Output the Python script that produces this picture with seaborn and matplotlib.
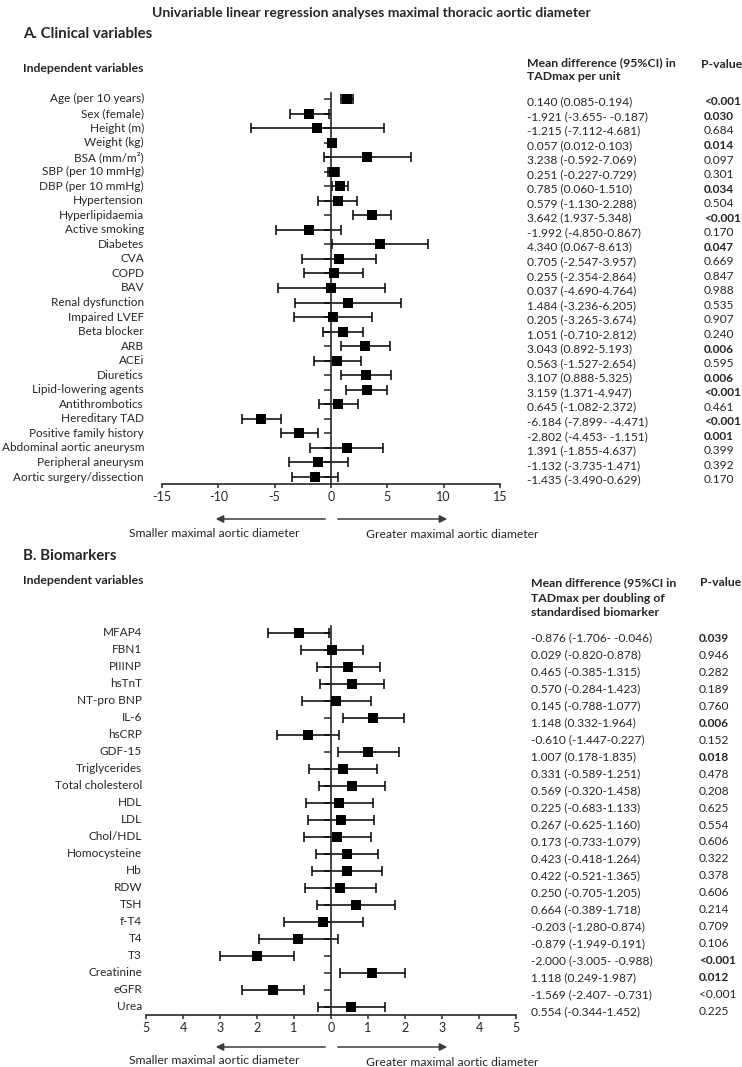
import numpy as np
import pandas as pd
import matplotlib
matplotlib.use('Agg')
import matplotlib.pyplot as plt
import matplotlib.transforms as mtransforms
import seaborn as sns

# ---- DATA: panel A (clinical variables) ----
clin_vars = ['Age (per 10 years)', 'Sex (female)', 'Height (m)', 'Weight (kg)', 'BSA (mm/m²)',
             'SBP (per 10 mmHg)', 'DBP (per 10 mmHg)', 'Hypertension', 'Hyperlipidaemia',
             'Active smoking', 'Diabetes', 'CVA', 'COPD', 'BAV', 'Renal dysfunction',
             'Impaired LVEF', 'Beta blocker', 'ARB', 'ACEi', 'Diuretics', 'Lipid-lowering agents',
             'Antithrombotics', 'Hereditary TAD', 'Positive family history',
             'Abdominal aortic aneurysm', 'Peripheral aneurysm', 'Aortic surgery/dissection']
# plotted estimates (age is drawn per 10 years in the figure)
clin_est = [1.40, -1.921, -1.215, 0.057, 3.238, 0.251, 0.785, 0.579, 3.642, -1.992, 4.340, 0.705,
            0.255, 0.037, 1.484, 0.205, 1.051, 3.043, 0.563, 3.107, 3.159, 0.645, -6.184, -2.802,
            1.391, -1.132, -1.435]
clin_lo = [0.85, -3.655, -7.112, 0.012, -0.592, -0.227, 0.060, -1.130, 1.937, -4.850, 0.067, -2.547,
           -2.354, -4.690, -3.236, -3.265, -0.710, 0.892, -1.527, 0.888, 1.371, -1.082, -7.899,
           -4.453, -1.855, -3.735, -3.490]
clin_hi = [1.94, -0.187, 4.681, 0.103, 7.069, 0.729, 1.510, 2.288, 5.348, 0.867, 8.613, 3.957,
           2.864, 4.764, 6.205, 3.674, 2.812, 5.193, 2.654, 5.325, 4.947, 2.372, -4.471, -1.151,
           4.637, 1.471, 0.629]
clin_ci_text = ['0.140 (0.085-0.194)', '-1.921 (-3.655- -0.187)', '-1.215 (-7.112-4.681)',
                '0.057 (0.012-0.103)', '3.238 (-0.592-7.069)', '0.251 (-0.227-0.729)',
                '0.785 (0.060-1.510)', '0.579 (-1.130-2.288)', '3.642 (1.937-5.348)',
                '-1.992 (-4.850-0.867)', '4.340 (0.067-8.613)', '0.705 (-2.547-3.957)',
                '0.255 (-2.354-2.864)', '0.037 (-4.690-4.764)', '1.484 (-3.236-6.205)',
                '0.205 (-3.265-3.674)', '1.051 (-0.710-2.812)', '3.043 (0.892-5.193)',
                '0.563 (-1.527-2.654)', '3.107 (0.888-5.325)', '3.159 (1.371-4.947)',
                '0.645 (-1.082-2.372)', '-6.184 (-7.899- -4.471)', '-2.802 (-4.453- -1.151)',
                '1.391 (-1.855-4.637)', '-1.132 (-3.735-1.471)', '-1.435 (-3.490-0.629)']
clin_p = ['<0.001', '0.030', '0.684', '0.014', '0.097', '0.301', '0.034', '0.504', '<0.001', '0.170',
          '0.047', '0.669', '0.847', '0.988', '0.535', '0.907', '0.240', '0.006', '0.595', '0.006',
          '<0.001', '0.461', '<0.001', '0.001', '0.399', '0.392', '0.170']
clin_bold = [1, 1, 0, 1, 0, 0, 1, 0, 1, 0, 1, 0, 0, 0, 0, 0, 0, 1, 0, 1, 1, 0, 1, 1, 0, 0, 0]

# ---- DATA: panel B (biomarkers) ----
bio_vars = ['MFAP4', 'FBN1', 'PIIINP', 'hsTnT', 'NT-pro BNP', 'IL-6', 'hsCRP', 'GDF-15',
            'Triglycerides', 'Total cholesterol', 'HDL', 'LDL', 'Chol/HDL', 'Homocysteine', 'Hb',
            'RDW', 'TSH', 'f-T4', 'T4', 'T3', 'Creatinine', 'eGFR', 'Urea']
bio_est = [-0.876, 0.029, 0.465, 0.570, 0.145, 1.148, -0.610, 1.007, 0.331, 0.569, 0.225, 0.267,
           0.173, 0.423, 0.422, 0.250, 0.664, -0.203, -0.879, -2.000, 1.118, -1.569, 0.554]
bio_lo = [-1.706, -0.820, -0.385, -0.284, -0.788, 0.332, -1.447, 0.178, -0.589, -0.320, -0.683,
          -0.625, -0.733, -0.418, -0.521, -0.705, -0.389, -1.280, -1.949, -3.005, 0.249, -2.407,
          -0.344]
bio_hi = [-0.046, 0.878, 1.315, 1.423, 1.077, 1.964, 0.227, 1.835, 1.251, 1.458, 1.133, 1.160,
          1.079, 1.264, 1.365, 1.205, 1.718, 0.874, 0.191, -0.988, 1.987, -0.731, 1.452]
bio_ci_text = ['-0.876 (-1.706- -0.046)', '0.029 (-0.820-0.878)', '0.465 (-0.385-1.315)',
               '0.570 (-0.284-1.423)', '0.145 (-0.788-1.077)', '1.148 (0.332-1.964)',
               '-0.610 (-1.447-0.227)', '1.007 (0.178-1.835)', '0.331 (-0.589-1.251)',
               '0.569 (-0.320-1.458)', '0.225 (-0.683-1.133)', '0.267 (-0.625-1.160)',
               '0.173 (-0.733-1.079)', '0.423 (-0.418-1.264)', '0.422 (-0.521-1.365)',
               '0.250 (-0.705-1.205)', '0.664 (-0.389-1.718)', '-0.203 (-1.280-0.874)',
               '-0.879 (-1.949-0.191)', '-2.000 (-3.005- -0.988)', '1.118 (0.249-1.987)',
               '-1.569 (-2.407- -0.731)', '0.554 (-0.344-1.452)']
bio_p = ['0.039', '0.946', '0.282', '0.189', '0.760', '0.006', '0.152', '0.018', '0.478', '0.208',
         '0.625', '0.554', '0.606', '0.322', '0.378', '0.606', '0.214', '0.709', '0.106', '<0.001',
         '0.012', '<0.001', '0.225']
bio_bold = [1, 0, 0, 0, 0, 1, 0, 1, 0, 0, 0, 0, 0, 0, 0, 0, 0, 0, 0, 1, 1, 0, 0]

clin_ticks = [-15, -10, -5, 0, 5, 10, 15]
bio_ticks = [-5, -4, -3, -2, -1, 0, 1, 2, 3, 4, 5]
bio_ticklabels = ['5', '4', '3', '2', '1', '0', '1', '2', '3', '4', '5']

# ---- STYLE ----
sns.set_style('ticks')
plt.rcParams['font.family'] = ['Lato', 'DejaVu Sans']
W, H = 742, 1067
FS = 8.6      # table text
LFS = 8.5     # row labels
HFS = 8.8     # bold headers

fig = plt.figure(figsize=(W / 100, H / 100), dpi=100)


def px(x, y):
    return x / W, 1 - y / H


def forest(ax, names, est, lo, hi, ci_text, pvals, bold, xlim, ticks, ticklabels,
           label_x, ci_x, p_x, table_off):
    n = len(names)
    df = pd.DataFrame({'var': names, 'est': est, 'lo': lo, 'hi': hi, 'row': np.arange(n)})
    ax.errorbar(df['est'], df['row'], xerr=[df['est'] - df['lo'], df['hi'] - df['est']],
                fmt='none', ecolor='black', elinewidth=1.1, capsize=3.6, capthick=1.1, zorder=2)
    sns.scatterplot(data=df, x='est', y='row', marker='s', s=62, color='black',
                    edgecolor='black', linewidth=0, ax=ax, zorder=3, legend=False)
    ax.set_xlim(xlim)
    ax.set_ylim(n - 1 + 0.48, -0.41)
    ax.spines['left'].set_position(('data', 0))
    ax.spines['top'].set_visible(False)
    ax.spines['right'].set_visible(False)
    for s in ['left', 'bottom']:
        ax.spines[s].set_linewidth(1.2)
    ax.set_yticks(df['row'])
    ax.set_yticklabels([])
    ax.tick_params(axis='y', length=5, width=1.1, direction='out')
    ax.set_xticks(ticks)
    ax.set_xticklabels(ticklabels if ticklabels else [str(t) for t in ticks], fontsize=LFS + 0.5)
    ax.tick_params(axis='x', length=3, width=1.1, pad=2)
    ax.set_xlabel('')
    ax.set_ylabel('')
    ax.patch.set_alpha(0)

    tr = mtransforms.blended_transform_factory(fig.transFigure, ax.transData)
    for i in range(n):
        ax.text(label_x / W, i, names[i], transform=tr, ha='right', va='center',
                fontsize=LFS, clip_on=False)
        ax.text(ci_x / W, i + table_off, ci_text[i], transform=tr, ha='left', va='center',
                fontsize=FS, clip_on=False)
        ax.text(p_x / W, i + table_off, pvals[i], transform=tr, ha='left', va='center',
                fontsize=FS, fontweight='bold' if bold[i] else 'normal', clip_on=False)


def arrows(y_arrow, y_text):
    fig.add_artist(matplotlib.patches.FancyArrowPatch(
        px(328, y_arrow), px(213, y_arrow), transform=fig.transFigure,
        arrowstyle='-|>', mutation_scale=11, color='#3a3a3a', lw=1.1))
    fig.add_artist(matplotlib.patches.FancyArrowPatch(
        px(335, y_arrow), px(450, y_arrow), transform=fig.transFigure,
        arrowstyle='-|>', mutation_scale=11, color='#3a3a3a', lw=1.1))
    fig.text(*px(214, y_text), 'Smaller maximal aortic diameter', ha='center', va='center',
             fontsize=LFS + 0.2)
    fig.text(*px(452, y_text + 2), 'Greater maximal aortic diameter', ha='center', va='center',
             fontsize=LFS + 0.2)


# title and section headers
fig.text(*px(371, 13), 'Univariable linear regression analyses maximal thoracic aortic diameter',
         ha='center', va='center', fontsize=10, fontweight='bold')

fig.text(*px(23, 34), 'A. Clinical variables', ha='left', va='center', fontsize=10.8,
         fontweight='bold')
fig.text(*px(23, 68), 'Independent variables', ha='left', va='center', fontsize=HFS,
         fontweight='bold')
fig.text(*px(527, 63), 'Mean difference (95%CI) in', ha='left', va='center', fontsize=HFS,
         fontweight='bold')
fig.text(*px(527, 77), 'TADmax per unit', ha='left', va='center', fontsize=HFS,
         fontweight='bold')
fig.text(*px(701, 65), 'P-value', ha='left', va='center', fontsize=HFS, fontweight='bold')

# panel A axes: x -15..15 -> 162..500 px, y 93..484 px
axA = fig.add_axes([162 / W, 1 - 484 / H, 338 / W, (484 - 93) / H])
forest(axA, clin_vars, clin_est, clin_lo, clin_hi, clin_ci_text, clin_p, clin_bold,
       (-15, 15), clin_ticks, None, 144, 527, 704, 0.2)
arrows(519, 533)

fig.text(*px(23, 556), 'B. Biomarkers', ha='left', va='center', fontsize=10.8, fontweight='bold')
fig.text(*px(23, 581), 'Independent variables', ha='left', va='center', fontsize=HFS,
         fontweight='bold')
fig.text(*px(531, 583), 'Mean difference (95%CI in', ha='left', va='center', fontsize=HFS,
         fontweight='bold')
fig.text(*px(531, 598), 'TADmax per doubling of', ha='left', va='center', fontsize=HFS,
         fontweight='bold')
fig.text(*px(531, 613), 'standardised biomarker', ha='left', va='center', fontsize=HFS,
         fontweight='bold')
fig.text(*px(700, 582), 'P-value', ha='left', va='center', fontsize=HFS, fontweight='bold')

# panel B axes: x -5..5 -> 146..516 px, y 626..1015 px
axB = fig.add_axes([146 / W, 1 - 1015 / H, 370 / W, (1015 - 626) / H])
forest(axB, bio_vars, bio_est, bio_lo, bio_hi, bio_ci_text, bio_p, bio_bold,
       (-5, 5), bio_ticks, bio_ticklabels, 142, 531, 699, 0.3)
arrows(1047, 1060)

fig.savefig('out.png', dpi=100)
